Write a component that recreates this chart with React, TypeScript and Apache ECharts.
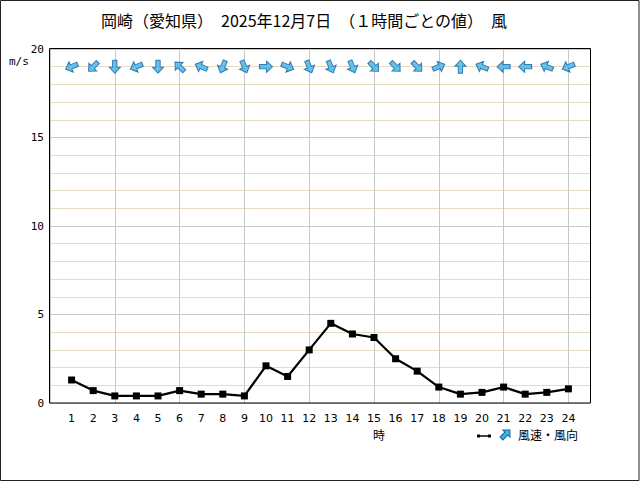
import React, { useEffect, useRef } from "react";
import * as echarts from "echarts";

const hours = [1, 2, 3, 4, 5, 6, 7, 8, 9, 10, 11, 12, 13, 14, 15, 16, 17, 18, 19, 20, 21, 22, 23, 24];
const windSpeed = [1.3, 0.7, 0.4, 0.4, 0.4, 0.7, 0.5, 0.5, 0.4, 2.1, 1.5, 3.0, 4.5, 3.9, 3.7, 2.5, 1.8, 0.9, 0.5, 0.6, 0.9, 0.5, 0.6, 0.8];
// wind blowing FROM
const windDir = ["東北東", "北東", "北", "東北東", "北", "南東", "東南東", "北北東", "北北西", "西", "西北西", "北北西", "北北西", "北北西", "北西", "北西", "北西", "西南西", "南", "東南東", "東", "東", "東南東", "東北東"];
const dirNames = ["北", "北北東", "北東", "東北東", "東", "東南東", "南東", "南南東", "南", "南南西", "南西", "西南西", "西", "西北西", "北西", "北北西"];
const yTicks = [0, 5, 10, 15, 20];
const arrowLevel = 19;

const titleText = "岡崎（愛知県）　2025年12月7日　（１時間ごとの値）　風";
const FONT = "'Noto Sans CJK JP', 'DejaVu Sans', sans-serif";

const ARROW = "path://M5,0 L10,5 L7,5 L7,11 L3,11 L3,5 L0,5 Z";

function rotationFor(from: string): number {
  const idx = dirNames.indexOf(from);
  const toDeg = (idx * 22.5 + 180) % 360; // compass direction the wind blows toward
  return -toDeg;
}

export default function App() {
  const ref = useRef<HTMLDivElement>(null);
  useEffect(() => {
    if (!ref.current) return;
    const chart = echarts.init(ref.current, null, { renderer: "svg" });
    const lineData = hours.map((h, i) => [h, windSpeed[i]]);
    const arrowData = hours.map((h, i) => ({
      value: [h, arrowLevel],
      symbolRotate: rotationFor(windDir[i]),
    }));
    chart.setOption({
      animation: false,
      backgroundColor: "#ffffff",
      textStyle: { fontFamily: FONT },
      grid: {
        left: 50,
        right: 50,
        top: 49,
        bottom: 79,
        show: false,
      },
      xAxis: [
        {
          type: "value",
          min: 0,
          max: 25,
          interval: 1,
          axisLine: { show: false },
          axisTick: { show: false },
          splitLine: { show: false },
          axisLabel: {
            color: "#000",
            fontSize: 11,
            fontFamily: "'DejaVu Sans', sans-serif",
            margin: 10,
            formatter: (v: number) => (hours.includes(v) ? String(v) : ""),
          },
        },
        {
          type: "value",
          min: 0,
          max: 25,
          interval: 3,
          position: "bottom",
          axisLine: { show: false },
          axisTick: { show: false },
          axisLabel: { show: false },
          splitLine: { show: true, lineStyle: { color: "#c8c8c8", width: 1 } },
        },
      ],
      yAxis: {
        type: "value",
        min: yTicks[0],
        max: yTicks[yTicks.length - 1],
        interval: 5,
        axisLine: { show: false },
        axisTick: { show: false },
        axisLabel: {
          color: "#000",
          fontSize: 11,
          fontFamily: "'DejaVu Sans Mono', monospace",
          margin: 6,
        },
        splitLine: { show: true, lineStyle: { color: "#c8c8c8", width: 1 } },
        minorTick: { show: false, splitNumber: 5 },
        minorSplitLine: { show: true, lineStyle: { color: "#e8dcc0", width: 1 } },
      },
      series: [
        {
          type: "line",
          xAxisIndex: 0,
          data: lineData,
          symbol: "rect",
          symbolSize: 7,
          itemStyle: { color: "#000000" },
          lineStyle: { color: "#000000", width: 2.2 },
          z: 5,
        },
        {
          type: "scatter",
          xAxisIndex: 0,
          data: arrowData,
          symbol: ARROW,
          symbolSize: [11, 13],
          itemStyle: { color: "#3ab4ea", borderColor: "#1a5f9c", borderWidth: 1 },
          z: 6,
        },
      ],
      graphic: [
        {
          type: "rect",
          z: 100,
          shape: { x: 0.5, y: 0.5, width: 638.5, height: 480 },
          style: { fill: "none", stroke: "#222", lineWidth: 1 },
          silent: true,
        },
        {
          type: "rect",
          z: 100,
          shape: { x: 49.5, y: 48.5, width: 541, height: 354.5 },
          style: { fill: "none", stroke: "#000", lineWidth: 1 },
          silent: true,
        },
        {
          type: "text",
          x: 304,
          y: 12,
          style: { text: titleText, font: `16px ${FONT}`, fill: "#000", textAlign: "center" },
        },
        {
          type: "text",
          x: 9,
          y: 56,
          style: { text: "m/s", font: `11px 'DejaVu Sans Mono', monospace`, fill: "#000" },
        },
        {
          type: "text",
          x: 373,
          y: 428,
          style: { text: "時", font: `12px ${FONT}`, fill: "#000" },
        },
        {
          type: "line",
          shape: { x1: 478, y1: 436, x2: 490, y2: 436 },
          style: { stroke: "#000", lineWidth: 1.5 },
        },
        { type: "rect", shape: { x: 477, y: 434.5, width: 3, height: 3 }, style: { fill: "#000" } },
        { type: "rect", shape: { x: 488, y: 434.5, width: 3, height: 3 }, style: { fill: "#000" } },
        {
          type: "polygon",
          x: 505,
          y: 435,
          rotation: -Math.PI / 4,
          shape: { points: [[0, -7], [5, -2], [2, -2], [2, 5], [-2, 5], [-2, -2], [-5, -2]] },
          style: { fill: "#3ab4ea", stroke: "#1a5f9c", lineWidth: 1 },
        },
        {
          type: "text",
          x: 518,
          y: 428,
          style: { text: "風速・風向", font: `12px ${FONT}`, fill: "#000" },
        },
      ],
    });
    return () => chart.dispose();
  }, []);
  return (
    <div
      ref={ref}
      style={{ position: "fixed", left: 0, top: 0, width: 640, height: 482 }}
    />
  );
}
